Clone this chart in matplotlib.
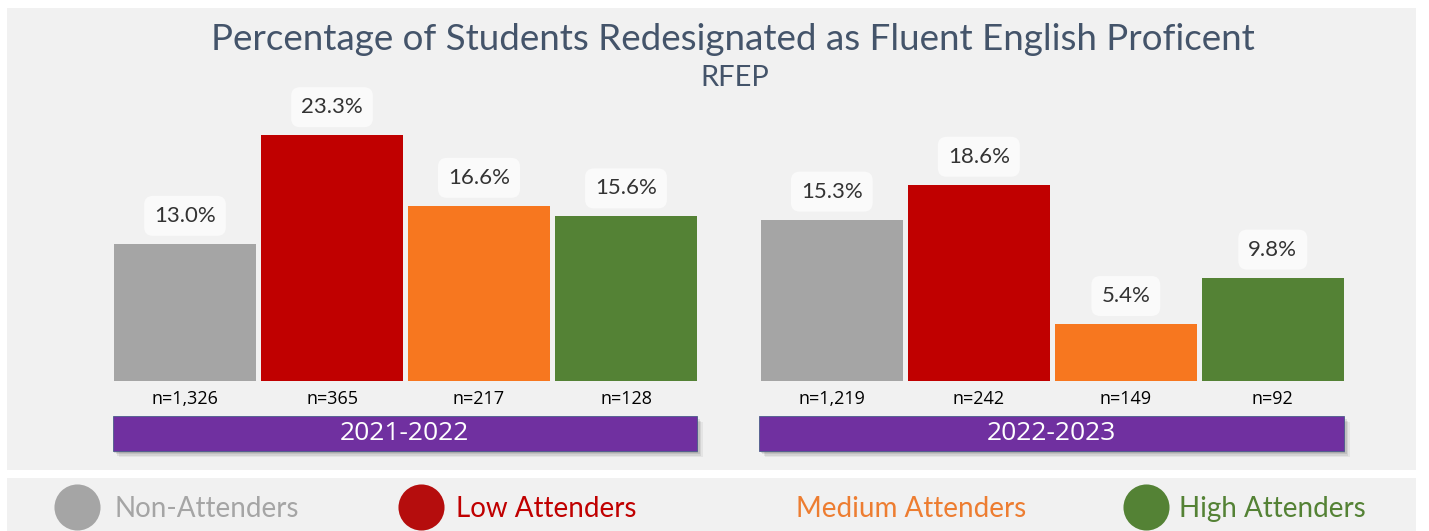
import matplotlib
matplotlib.use("Agg")
import matplotlib.pyplot as plt
from matplotlib.patches import Rectangle

# data
years = ["2021-2022", "2022-2023"]
categories = ["Non-Attenders", "Low Attenders", "Medium Attenders", "High Attenders"]
pct_2122 = [13.0, 23.3, 16.6, 15.6]
pct_2223 = [15.3, 18.6, 5.4, 9.8]
n_2122 = [1326, 365, 217, 128]
n_2223 = [1219, 242, 149, 92]

bar_colors = ["#a5a5a5", "#c00000", "#f7771f", "#548235"]
legend_dot = ["#a5a5a5", "#b50d0d", None, "#548235"]
legend_txt = ["#a5a5a5", "#c00000", "#ed7d31", "#548235"]
title_color = "#44546a"
purple = "#7030a0"

W, H = 1429, 531
fig = plt.figure(figsize=(W / 100, H / 100), dpi=100)
fig.patch.set_facecolor("white")

# pixel layout: baseline at y=381px, 10.55 px per percent, bar step 147 px
base_px, ppu_y, step_px, x0_px = 381, 10.55, 147, 185
ax = fig.add_axes([0, 0, 1, 1], zorder=2)
ax.set_xlim(-x0_px / step_px, (W - x0_px) / step_px)
ax.set_ylim(-(H - base_px) / ppu_y, base_px / ppu_y)
ax.set_axis_off()
ax.patch.set_alpha(0)

def fx(px):
    return px / W

def fy(py):
    return 1 - py / H

# background panels
fig.patches.append(Rectangle((fx(7), fy(470)), fx(1416 - 7), (470 - 8) / H,
                             transform=fig.transFigure, facecolor="#f1f1f1",
                             edgecolor="none", zorder=-5))
fig.patches.append(Rectangle((fx(7), 0), fx(1416 - 7), (531 - 478) / H,
                             transform=fig.transFigure, facecolor="#f1f1f1",
                             edgecolor="none", zorder=-5))

fig.text(fx(733), fy(40), "Percentage of Students Redesignated as Fluent English Proficent",
         ha="center", va="center", fontsize=26.5, family="Lato", color=title_color)
fig.text(fx(735), fy(78), "RFEP", ha="center", va="center", fontsize=21,
         family="Lato", color=title_color)

group_gap = 4.4
bw = 0.965
for g, (year, pcts, ns) in enumerate(zip(years, [pct_2122, pct_2223], [n_2122, n_2223])):
    xs = [i + g * group_gap for i in range(len(categories))]
    ax.bar(xs, pcts, width=bw, color=bar_colors, edgecolor="none", zorder=3)
    for x, p, n in zip(xs, pcts, ns):
        ax.text(x, p + 28 / ppu_y, f"{p:.1f}%", ha="center", va="center",
                fontsize=16, family="Lato", color="#333333", zorder=5,
                bbox=dict(boxstyle="round,pad=0.45,rounding_size=0.4", facecolor="#fafafa",
                          edgecolor="none"))
        ax.text(x, -18 / ppu_y, f"n={n:,}", ha="center", va="center",
                fontsize=13, family="Open Sans", color="black", zorder=5)
    # year banner with soft shadow
    left = xs[0] - bw / 2 - 0.01
    width = xs[-1] - xs[0] + bw + 0.01
    top, bot = -(416 - base_px) / ppu_y, -(451 - base_px) / ppu_y
    for k, a in enumerate([0.05, 0.07, 0.09, 0.11]):
        off = (4 - k) * 1.5
        ax.add_patch(Rectangle((left + off / step_px, bot - off / ppu_y), width, top - bot,
                               facecolor="black", alpha=a, edgecolor="none", zorder=2))
    ax.add_patch(Rectangle((left, bot), width, top - bot, facecolor=purple,
                           edgecolor="#4b5d8a", linewidth=0.6, zorder=4))
    ax.text(left + width / 2, (top + bot) / 2, year, ha="center", va="center",
            fontsize=19, family="Open Sans", color="white", zorder=5)

# legend strip
dot_x = [77, 421, None, 1146]
txt_x = [115, 456, 796, 1179]
for cat, dc, tc, dx, tx in zip(categories, legend_dot, legend_txt, dot_x, txt_x):
    if dc is not None:
        ax.scatter([fx(dx)], [fy(507)], s=1100, color=dc, transform=fig.transFigure,
                   zorder=5, clip_on=False, linewidths=0)
    fig.text(fx(tx), fy(509), cat, ha="left", va="center", fontsize=20,
             family="Lato", color=tc)

fig.savefig("out.png", dpi=100, facecolor=fig.get_facecolor())
